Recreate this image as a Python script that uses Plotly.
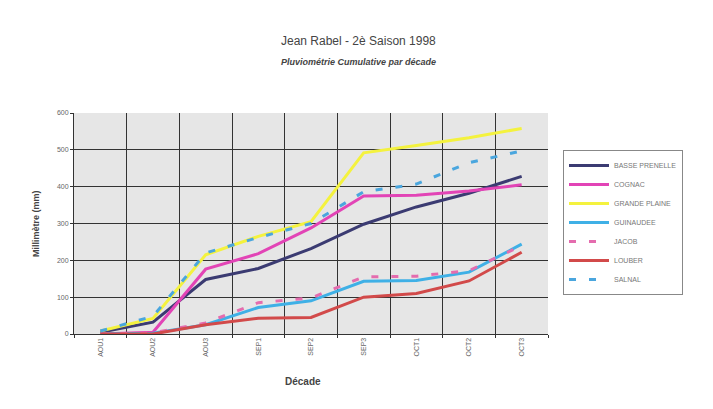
import plotly.graph_objects as go

decades = ['AOU1', 'AOU2', 'AOU3', 'SEP1', 'SEP2', 'SEP3', 'OCT1', 'OCT2', 'OCT3']

basse_prenelle = [5, 32, 148, 178, 232, 298, 345, 382, 428]
cognac = [0, 5, 176, 218, 288, 375, 377, 388, 405]
grande_plaine = [8, 42, 215, 265, 305, 492, 512, 533, 558]
guinaudee = [0, 2, 25, 72, 90, 143, 145, 168, 244]
jacob = [0, 3, 30, 85, 98, 155, 157, 172, 240]
louber = [0, 0, 25, 43, 45, 100, 110, 144, 222]
salnal = [8, 48, 220, 262, 300, 386, 407, 465, 497]

series = [
    ('BASSE PRENELLE', basse_prenelle, '#3b3b72', 'solid'),
    ('COGNAC', cognac, '#e244b6', 'solid'),
    ('GRANDE PLAINE', grande_plaine, '#f4f23e', 'solid'),
    ('GUINAUDEE', guinaudee, '#3fb0e6', 'solid'),
    ('JACOB', jacob, '#e46cae', '7px,13px'),
    ('LOUBER', louber, '#d24a4a', 'solid'),
    ('SALNAL', salnal, '#4aa6de', '7px,13px'),
]

fig = go.Figure()
for name, vals, color, dash in series:
    fig.add_trace(go.Scatter(
        x=decades,
        y=vals,
        name=name,
        mode='lines',
        line=dict(color=color, width=3, dash=dash),
    ))

# the page has an 8px body margin, so work in page pixels minus 8
OFF = 8
L, R, T, B = 74 - OFF, 548 - OFF, 113 - OFF, 334 - OFF
W, H = 713, 409
pw, ph = R - L, B - T


def px(x, y):
    return (x - OFF - L) / pw, (B - (y - OFF)) / ph


texts = [
    ('Jean Rabel - 2è Saison 1998', 358, 41, 12, 0),
    ('<b><i>Pluviométrie Cumulative par décade</i></b>', 358, 62, 9, 0),
    ('<b>Décade</b>', 303, 381, 10, 0),
    ('<b>Millimètre (mm)</b>', 36, 224, 9, -90),
]
annotations = []
for t, x, y, size, ang in texts:
    ax, ay = px(x, y)
    annotations.append(dict(
        text=t, x=ax, y=ay, xref='paper', yref='paper',
        xanchor='center', yanchor='middle', showarrow=False, textangle=ang,
        font=dict(size=size, color='#444444'),
    ))

lx, ly = px(563, 150)

fig.update_layout(
    width=W,
    height=H,
    paper_bgcolor='white',
    plot_bgcolor='#e6e6e6',
    font=dict(family='Liberation Sans, Arial', color='#555555', size=7),
    margin=dict(l=L, r=W - R, t=T, b=H - B, autoexpand=False),
    showlegend=True,
    legend=dict(
        x=lx, y=ly, xanchor='left', yanchor='top',
        bordercolor='#888888', borderwidth=1, bgcolor='white',
        font=dict(size=7, color='#777777'),
        tracegroupgap=0, itemwidth=40,
    ),
    annotations=annotations,
)

fig.update_xaxes(
    type='category',
    range=[-0.5, 8.5],
    tickson='boundaries',
    showgrid=True, gridcolor='#333333', gridwidth=1,
    showline=True, linecolor='#333333', linewidth=1,
    ticks='outside', ticklen=3, tickcolor='#333333',
    tickangle=-90,
    tickfont=dict(size=7, color='#666666'),
)
fig.update_yaxes(
    range=[0, 600], dtick=100,
    showgrid=True, gridcolor='#333333', gridwidth=1,
    showline=True, linecolor='#333333', linewidth=1,
    ticks='outside', ticklen=3, tickcolor='#333333',
    tickfont=dict(size=7, color='#666666'),
    zeroline=False,
)

fig.write_html('out.html')
